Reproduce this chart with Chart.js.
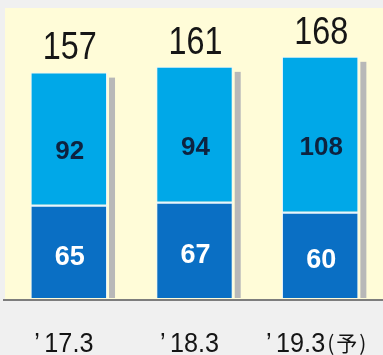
<!DOCTYPE html>
<html lang="ja">
<head>
<meta charset="UTF-8">
<title>chart</title>
<script src="https://cdn.jsdelivr.net/npm/chart.js"></script>
<style>
  html, body { margin: 0; padding: 0; background: #f0f0f0; }
  #wrap { width: 383px; height: 355px; overflow: hidden; }
</style>
</head>
<body>
<div id="wrap"><canvas id="chart" width="383" height="355"></canvas></div>
<script>
// データ
const categories = ['’17.3', '’18.3', '’19.3'];
const suffixes = ['', '', '(予)'];
const lowerValues = [65, 67, 60];
const upperValues = [92, 94, 108];
const totals = [157, 161, 168];

const panelColor = '#fffcd8';
const darkBlue = '#0a6fc4';
const lightBlue = '#00a8e8';

// 黄色い背景・影・基線・ラベル
const decor = {
  id: 'decor',
  beforeDatasetsDraw(chart) {
    const { ctx, chartArea } = chart;
    ctx.save();
    ctx.fillStyle = panelColor;
    ctx.fillRect(chartArea.left - 1, chartArea.top, chartArea.right - chartArea.left + 1, chartArea.bottom - chartArea.top + 2);
    // bar shadows
    const top = chart.getDatasetMeta(1).data;
    const bottom = chart.getDatasetMeta(0).data;
    ctx.fillStyle = '#b8b8b8';
    top.forEach((bar, i) => {
      const right = bar.x + bar.width / 2;
      ctx.fillRect(right + 2, bar.y + 5, 6, bottom[i].base - bar.y - 5);
    });
    ctx.restore();
  },
  afterDatasetsDraw(chart) {
    const { ctx, chartArea } = chart;
    const x = chart.scales.x;
    const top = chart.getDatasetMeta(1).data;
    const bottom = chart.getDatasetMeta(0).data;
    ctx.save();
    // baseline
    ctx.fillStyle = '#7d7d7d';
    ctx.fillRect(3, chartArea.bottom + 1, chartArea.right - 3, 2);

    ctx.textAlign = 'center';
    ctx.textBaseline = 'middle';
    top.forEach((bar, i) => {
      const cx = bar.x + 1;
      // totals
      ctx.save();
      ctx.translate(cx, bar.y - 26);
      ctx.scale(0.83, 1);
      ctx.fillStyle = '#161616';
      ctx.font = '39px "Liberation Sans", Arial, sans-serif';
      ctx.fillText(String(totals[i]), 0, 2);
      ctx.restore();
      // upper segment
      ctx.fillStyle = '#0d2340';
      ctx.font = 'bold 26px "Liberation Sans", Arial, sans-serif';
      ctx.fillText(String(upperValues[i]), cx, (bar.y + bar.base) / 2 + 13);
      // lower segment
      const b = bottom[i];
      ctx.fillStyle = '#ffffff';
      ctx.font = 'bold 27px "Liberation Sans", Arial, sans-serif';
      ctx.fillText(String(lowerValues[i]), cx, (b.y + b.base) / 2 + 6);
    });

    // category labels: apostrophe, number, optional small suffix
    ctx.fillStyle = '#141414';
    ctx.textBaseline = 'alphabetic';
    ctx.textAlign = 'left';
    const big = '28px "Liberation Sans", Arial, sans-serif';
    const small = '21px "Noto Sans CJK JP", sans-serif';
    const sx = 0.9, gap = 5;
    categories.forEach((c, i) => {
      const px = x.getPixelForValue(i) - 5;
      const mark = c.charAt(0), num = c.slice(1);
      ctx.font = big;
      const wm = ctx.measureText(mark).width;
      const wn = ctx.measureText(num).width;
      ctx.font = small;
      ctx.letterSpacing = '2px';
      const ws = suffixes[i] ? ctx.measureText(suffixes[i]).width : 0;
      ctx.letterSpacing = '0px';
      const wMain = (wm + gap + wn) * sx;
      const start = px - (wMain + ws) / 2 + (suffixes[i] ? 1 : 0);
      ctx.save();
      ctx.translate(start, 352);
      ctx.scale(sx, 1);
      ctx.font = big;
      ctx.fillText(mark, 0, 0);
      ctx.fillText(num, wm + gap, 0);
      ctx.restore();
      if (suffixes[i]) {
        ctx.font = small;
        ctx.letterSpacing = '2px';
        ctx.fillText(suffixes[i], start + wMain + 2, 351);
        ctx.letterSpacing = '0px';
      }
    });
    ctx.restore();
  }
};

new Chart(document.getElementById('chart'), {
  type: 'bar',
  data: {
    labels: categories,
    datasets: [
      {
        data: lowerValues,
        backgroundColor: darkBlue,
        borderColor: '#e8f4ff',
        borderWidth: { top: 2, left: 1, right: 1, bottom: 0 },
        borderSkipped: false
      },
      {
        data: upperValues,
        backgroundColor: lightBlue,
        borderColor: '#e8f4ff',
        borderWidth: { top: 1, left: 1, right: 1, bottom: 0 },
        borderSkipped: false
      }
    ]
  },
  options: {
    responsive: false,
    animation: false,
    layout: { padding: { left: 6, top: 8, right: -3, bottom: 57 } },
    categoryPercentage: 1,
    barPercentage: 0.608,
    plugins: { legend: { display: false }, tooltip: { enabled: false } },
    scales: {
      x: { stacked: true, display: false },
      y: { stacked: true, display: false, min: 0, max: 202 }
    }
  },
  plugins: [decor]
});
</script>
</body>
</html>
